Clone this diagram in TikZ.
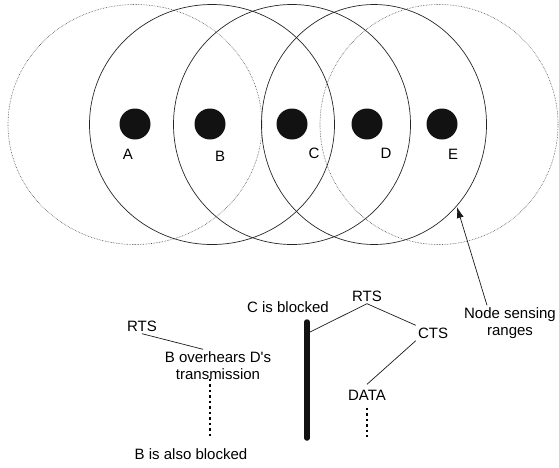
\documentclass[tikz,border=0pt]{standalone}
\usepackage{fontspec}
\setmainfont{Liberation Sans}
\usetikzlibrary{arrows.meta}
\begin{document}
\begin{tikzpicture}[x=1pt, y=-1pt,
    station/.style ={circle, fill=black!93, inner sep=0pt, minimum size=31pt},
    heard/.style ={draw=black!85, line width=0.7pt},
    sensed/.style ={draw=black!70, densely dotted, line width=0.6pt},
    msg/.style ={inner sep=2pt, text height=11pt, text depth=0pt},
    note/.style ={inner sep=2pt, align=center},
    link/.style ={draw=black!90, line width=0.7pt},
    wait/.style ={draw=black, line width=1.3pt, dash pattern=on 2.5pt off 3pt},
    blocked/.style ={draw=black!93, line width=5.5pt, line cap=round},
    font=\fontsize{15}{17}\selectfont]
   \useasboundingbox (0,0) rectangle (559,467);

   % sensing ranges
   \draw[sensed] (135,124.5) ellipse [x radius=127pt, y radius=120pt];
   \draw[heard]  (212,124.5) ellipse [x radius=122.5pt, y radius=120pt];
   \draw[heard]  (292,124.5) ellipse [x radius=118.5pt, y radius=120pt];
   \draw[heard]  (374,124.5) ellipse [x radius=112.5pt, y radius=120pt];
   \draw[sensed] (439,124.5) ellipse [x radius=119pt, y radius=120pt];

   \node[station] (A) at (135,124) {};
   \node[station] (B) at (210,124) {};
   \node[station] (C) at (292,124) {};
   \node[station] (D) at (367,124) {};
   \node[station] (E) at (442,124) {};

   \node[msg] (lA) at (128,154) {A};
   \node[msg] (lB) at (220,156) {B};
   \node[msg] (lC) at (314,153) {C};
   \node[msg] (lD) at (386,153) {D};
   \node[msg] (lE) at (453,154) {E};

   % exchange
   \node[msg]  (rtsB) at (142,326) {RTS};
   \node[note] (over) at (218,365.5) {B overhears D\textquotesingle s\\transmission};
   \node[msg]  (blkB) at (191,454) {B is also blocked};
   \node[msg]  (blkC) at (288,307) {C is blocked};
   \node[msg]  (rtsD) at (367,296) {RTS};
   \node[msg]  (ctsD) at (433,333) {CTS};
   \node[msg]  (data) at (367,395) {DATA};
   \node[note] (sense) at (510,323) {Node sensing\\ranges};

   \coordinate (barT) at (307,322);
   \coordinate (barB) at (307,438);
   \coordinate (barC) at (310,332);
   \coordinate (waitB) at (210,437);
   \coordinate (waitD) at (367,437);
   \coordinate (tipD) at (457,207);

   \draw[blocked] (barT) to (barB);
   \draw[link] (rtsB.south) to ([xshift=-15pt]over.north);
   \draw[link] (barC) to (rtsD.south);
   \draw[link] (rtsD.south) to (ctsD.north west);
   \draw[link] (ctsD.south west) to ([yshift=3pt]data.north);
   \draw[wait] ([xshift=-8pt, yshift=3pt]over.south) to (waitB);
   \draw[wait] ([yshift=-5pt]data.south) to (waitD);
   \draw[link, -{Latex[length=11pt, width=7pt]}] ([xshift=-23pt]sense.north) to (tipD);

 \end{tikzpicture}
\end{document}
